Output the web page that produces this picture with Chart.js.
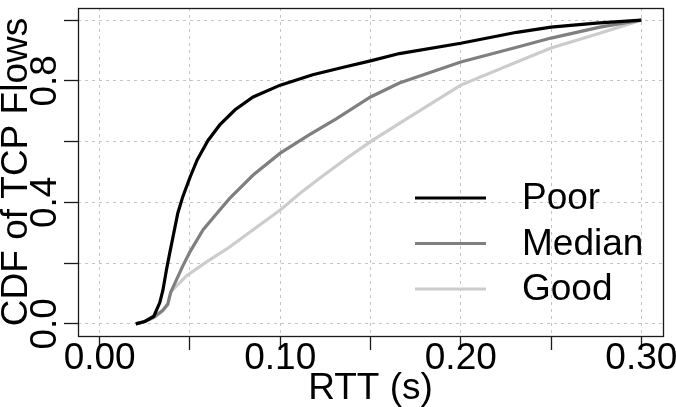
<!DOCTYPE html>
<html><head><meta charset="utf-8">
<script src="https://cdn.jsdelivr.net/npm/chart.js@4.4.1/dist/chart.umd.min.js"></script>
<style>html,body{margin:0;padding:0;background:#fff;overflow:hidden}#wrap{width:676px;height:407px;position:relative}</style>
</head><body><div id="wrap"><canvas id="c" width="676" height="407"></canvas></div>
<script>
// ---- data ----
const seriesNames = ['Poor', 'Median', 'Good'];
const poorRTT = [0.020, 0.025, 0.030, 0.0333, 0.035, 0.037, 0.0388, 0.0406, 0.0433, 0.046, 0.050, 0.054, 0.060, 0.0665, 0.075, 0.085, 0.100, 0.118, 0.135, 0.150, 0.166, 0.200, 0.231, 0.250, 0.275, 0.300];
const poorCDF = [0.000, 0.008, 0.025, 0.070, 0.110, 0.178, 0.233, 0.286, 0.365, 0.418, 0.482, 0.540, 0.604, 0.655, 0.705, 0.747, 0.786, 0.820, 0.845, 0.866, 0.890, 0.924, 0.960, 0.977, 0.990, 1.000];
const medianRTT = [0.020, 0.025, 0.030, 0.035, 0.0377, 0.0394, 0.0406, 0.046, 0.050, 0.0573, 0.0665, 0.072, 0.085, 0.100, 0.116, 0.131, 0.150, 0.166, 0.200, 0.231, 0.250, 0.277, 0.300];
const medianCDF = [0.000, 0.008, 0.022, 0.045, 0.065, 0.105, 0.120, 0.190, 0.237, 0.310, 0.375, 0.413, 0.490, 0.562, 0.622, 0.675, 0.747, 0.793, 0.862, 0.911, 0.941, 0.977, 1.000];
const goodRTT = [0.020, 0.025, 0.030, 0.035, 0.0377, 0.0394, 0.048, 0.059, 0.072, 0.085, 0.100, 0.111, 0.122, 0.137, 0.150, 0.166, 0.200, 0.231, 0.250, 0.277, 0.300];
const goodCDF = [0.000, 0.008, 0.020, 0.042, 0.062, 0.105, 0.158, 0.203, 0.253, 0.310, 0.375, 0.430, 0.480, 0.546, 0.600, 0.660, 0.786, 0.862, 0.908, 0.957, 1.000];
const xTickLabels = ['0.00', '0.10', '0.20', '0.30'];
const yTickLabels = ['0.0', '0.4', '0.8'];
const xTitle = 'RTT (s)';
const yTitle = 'CDF of TCP Flows';

// ---- styling ----
const FONT = '"Liberation Sans", Arial, Helvetica, sans-serif';
const colors = ['#000000', '#7f7f7f', '#cccccc'];
const toPts = (xs, ys) => xs.map((x, i) => ({x: x, y: ys[i]}));
const rttArrays = [poorRTT, medianRTT, goodRTT];
const cdfArrays = [poorCDF, medianCDF, goodCDF];

const frame = {
  id: 'frame',
  afterDatasetsDraw(chart) {
    const {ctx, chartArea: a} = chart;
    ctx.save();
    ctx.strokeStyle = '#1a1a1a';
    ctx.lineWidth = 1.3;
    ctx.strokeRect(Math.round(a.left) + 0.5, Math.round(a.top) + 0.5, Math.round(a.right - a.left), Math.round(a.bottom - a.top));
    ctx.restore();
  }
};

const innerLegend = {
  id: 'innerLegend',
  afterDatasetsDraw(chart, args, o) {
    const {ctx, chartArea: a} = chart;
    ctx.save();
    ctx.font = '37px ' + FONT;
    ctx.textBaseline = 'middle';
    ctx.textAlign = 'left';
    chart.data.datasets.forEach((ds, i) => {
      const y = a.bottom - o.firstFromBottom + i * o.spacing;
      ctx.strokeStyle = ds.borderColor;
      ctx.lineWidth = 3.2;
      ctx.beginPath();
      ctx.moveTo(a.right - o.lineStart, y);
      ctx.lineTo(a.right - o.lineEnd, y);
      ctx.stroke();
      ctx.fillStyle = '#000';
      ctx.fillText(ds.label, a.right - o.textStart, y + 1);
    });
    ctx.restore();
  }
};

const gridCommon = {
  color: '#c4c4c4',
  lineWidth: 1,
  tickLength: 14,
  tickColor: '#1a1a1a',
  tickWidth: 1.3,
  drawOnChartArea: true
};

new Chart(document.getElementById('c'), {
  type: 'line',
  data: {
    datasets: seriesNames.map((name, i) => ({
      label: name,
      data: toPts(rttArrays[i], cdfArrays[i]),
      borderColor: colors[i],
      backgroundColor: colors[i],
      borderWidth: 3.2,
      pointRadius: 0,
      tension: 0,
      fill: false,
      order: i
    }))
  },
  options: {
    responsive: false,
    animation: false,
    devicePixelRatio: 1,
    layout: {padding: {top: 8, right: 13, left: 0, bottom: 0}},
    plugins: {
      legend: {display: false},
      tooltip: {enabled: false},
      innerLegend: {firstFromBottom: 138, spacing: 45.5, lineStart: 248, lineEnd: 177, textStart: 141}
    },
    scales: {
      x: {
        type: 'linear',
        min: -0.012, max: 0.312,
        afterFit(s) { s.height = 71; s.paddingLeft = 0; s.paddingRight = 0; },
        grid: gridCommon,
        border: {display: false, dash: [3, 4]},
        ticks: {
          stepSize: 0.05,
          includeBounds: false,
          autoSkip: false,
          maxRotation: 0, minRotation: 0,
          padding: -10,
          color: '#000',
          font: {family: FONT, size: 37, lineHeight: 1},
          callback(v) { const t = Number(v).toFixed(2); return xTickLabels.includes(t) ? t : ''; }
        },
        title: {display: true, text: xTitle, color: '#000', padding: {top: 0, bottom: 0}, font: {family: FONT, size: 37, lineHeight: 1}}
      },
      y: {
        type: 'linear',
        min: -0.04, max: 1.04,
        afterFit(s) { s.width = 78; s.paddingTop = 0; s.paddingBottom = 0; },
        grid: gridCommon,
        border: {display: false, dash: [3, 4]},
        ticks: {
          stepSize: 0.2,
          includeBounds: false,
          autoSkip: false,
          minRotation: 90, maxRotation: 90,
          crossAlign: 'center',
          padding: -8,
          color: '#000',
          font: {family: FONT, size: 37, lineHeight: 1},
          callback(v) { const t = Number(v).toFixed(1); return yTickLabels.includes(t) ? t : ''; }
        },
        title: {display: true, text: yTitle, color: '#000', padding: {top: -2, bottom: 0}, font: {family: FONT, size: 37, lineHeight: 1}}
      }
    }
  },
  plugins: [frame, innerLegend]
});
</script></body></html>
